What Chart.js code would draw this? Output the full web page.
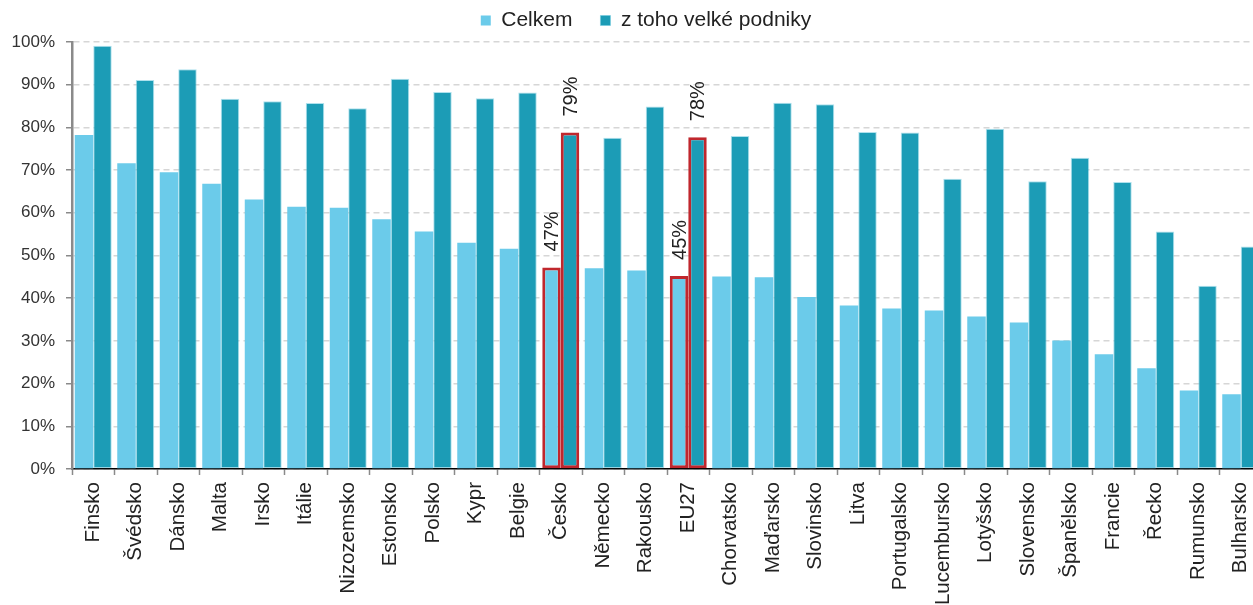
<!DOCTYPE html>
<html lang="cs">
<head>
<meta charset="utf-8">
<title>Graf</title>
<script src="https://cdn.jsdelivr.net/npm/chart.js@4.4.1/dist/chart.umd.min.js"></script>
<style>
html,body{margin:0;padding:0;background:#fff;overflow:hidden;width:1253px;height:605px;}
canvas{display:block;}
</style>
</head>
<body>
<canvas id="c" width="1262" height="605"></canvas>
<script>
const categories = ['Finsko','Švédsko','Dánsko','Malta','Irsko','Itálie','Nizozemsko','Estonsko','Polsko','Kypr','Belgie','Česko','Německo','Rakousko','EU27','Chorvatsko','Maďarsko','Slovinsko','Litva','Portugalsko','Lucembursko','Lotyšsko','Slovensko','Španělsko','Francie','Řecko','Rumunsko','Bulharsko'];
const celkem = [78.2,71.6,69.5,66.8,63.1,61.4,61.2,58.5,55.6,53.0,51.6,47.2,47.0,46.5,45.2,45.1,44.9,40.3,38.3,37.6,37.1,35.7,34.3,30.1,26.9,23.6,18.4,17.5];
const velkePodniky = [99.1,91.1,93.6,86.7,86.1,85.7,84.5,91.4,88.3,86.8,88.2,78.8,77.6,84.9,77.7,78.0,85.8,85.4,78.9,78.8,68.0,79.7,67.4,72.9,67.2,55.6,42.9,52.1];
const seriesNames = ['Celkem','z toho velké podniky'];
const highlighted = ['Česko','EU27'];
const yMin = 0, yMax = 100, yStep = 10;

const FONT = '"Liberation Sans", Arial, Helvetica, sans-serif';
Chart.defaults.font.family = FONT;

const isHi = (ctx) => ctx.dataIndex !== undefined && highlighted.includes(categories[ctx.dataIndex]);

const legendPlugin = {
  id: 'legendFix',
  beforeLayout(chart) {
    const lg = chart.legend;
    if (lg && !lg._fixed) {
      const f = lg.fit;
      lg.fit = function() { f.call(this); this.height = 60; };
      lg._fixed = true;
    }
  },
  afterLayout(chart) {
    if (chart.legend) { chart.legend.left += 15; chart.legend.right += 15; }
  }
};

const valueLabels = {
  id: 'valueLabels',
  afterDatasetsDraw(chart) {
    const ctx = chart.ctx;
    chart.data.datasets.forEach((ds, di) => {
      const meta = chart.getDatasetMeta(di);
      categories.forEach((c, i) => {
        if (!highlighted.includes(c)) return;
        const bar = meta.data[i];
        ctx.save();
        ctx.translate(bar.x + 1, bar.y - 16);
        ctx.rotate(-Math.PI / 2);
        ctx.font = '20px ' + FONT;
        ctx.fillStyle = '#222';
        ctx.textAlign = 'left';
        ctx.textBaseline = 'middle';
        ctx.fillText(Math.round(ds.data[i]) + '%', 0, 0);
        ctx.restore();
      });
    });
  }
};

new Chart(document.getElementById('c'), {
  type: 'bar',
  data: {
    labels: categories,
    datasets: [
      { label: seriesNames[0], data: celkem, backgroundColor: '#6bcbea',
        borderColor: '#c0272d',
        borderWidth: (ctx) => isHi(ctx) ? 3 : 0, borderSkipped: false,
        categoryPercentage: 0.87, barPercentage: 1.0 },
      { label: seriesNames[1], data: velkePodniky, backgroundColor: '#1c9cb6',
        borderColor: (ctx) => isHi(ctx) ? '#c0272d' : 'rgba(110,200,222,0.55)',
        borderWidth: (ctx) => ctx.dataIndex === undefined ? 0 : (isHi(ctx) ? 3 : 1), borderSkipped: false,
        categoryPercentage: 0.87, barPercentage: 1.0 }
    ]
  },
  options: {
    responsive: false,
    devicePixelRatio: 1,
    animation: false,
    layout: { padding: { top: -18, left: 0, right: 0, bottom: 0 } },
    plugins: {
      legend: {
        display: true, position: 'top', align: 'center',
        labels: { boxWidth: 10, boxHeight: 10, padding: 28, color: '#222', font: { size: 21 } }
      },
      tooltip: { enabled: false }
    },
    scales: {
      x: {
        grid: { offset: true, drawOnChartArea: false, drawTicks: true, tickLength: 6, tickColor: '#8a8a8a', tickWidth: 1.5 },
        border: { display: true, color: '#000', width: 1.5 },
        ticks: { minRotation: 90, maxRotation: 90, autoSkip: false, color: '#222', font: { size: 20.5 }, padding: 7 },
        afterFit(s) { s.height = 136; s.paddingLeft = 0; s.paddingRight = 0; }
      },
      y: {
        min: yMin, max: yMax,
        ticks: { stepSize: yStep, callback: (v) => v + '%', color: '#333', font: { size: 17 }, padding: 11 },
        grid: { color: '#d6d6d6', lineWidth: 1.5, drawTicks: true, tickLength: 6, tickColor: '#8a8a8a', tickWidth: 1.5, tickBorderDash: [] },
        border: { display: true, color: '#8a8a8a', width: 2.5, dash: [6, 4] },
        afterFit(s) { s.width = 72; }
      }
    }
  },
  plugins: [legendPlugin, valueLabels]
});
</script>
</body>
</html>
